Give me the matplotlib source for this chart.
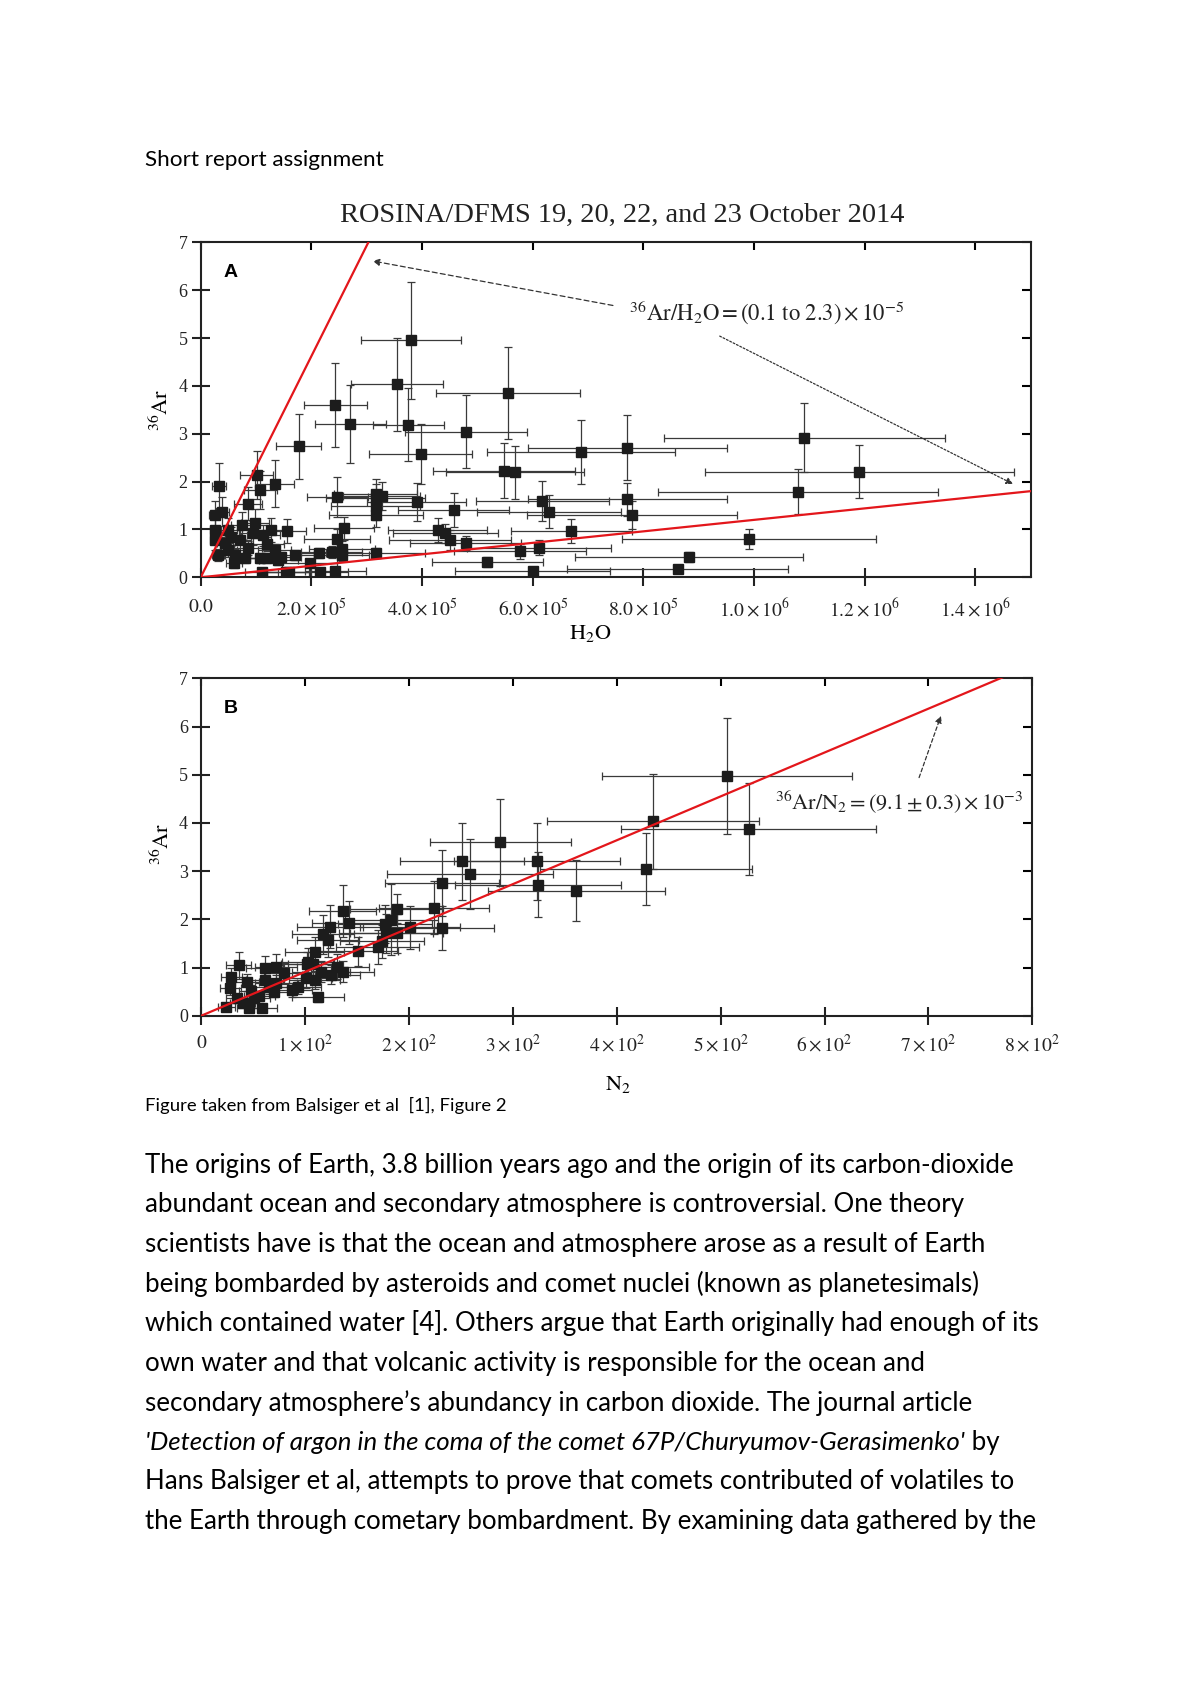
import matplotlib
matplotlib.use("Agg")
import matplotlib.pyplot as plt
import numpy as np

# ---------------- data ----------------
# Panel A : H2O (units of 1e5) vs 36Ar
a_h2o = [3.80, 3.54, 5.56, 2.43, 2.70, 3.75, 4.79, 1.77, 3.98, 6.88, 7.71, 5.48, 5.68,
         7.71, 7.79, 10.91, 11.90, 10.80, 9.91, 8.83, 8.62, 6.17, 6.29, 6.70, 5.77, 6.11,
         5.18, 6.00, 4.28, 4.42, 4.51, 4.79, 4.57, 3.90, 3.16, 3.16, 3.27, 3.16, 3.16,
         2.47, 3.16, 2.59, 2.46, 2.55, 2.55, 2.37, 2.13, 1.97, 2.16, 2.43, 1.55, 1.10,
         1.60, 1.70, 1.46, 1.34, 1.07, 1.19, 0.86, 0.62, 0.32, 0.50, 0.44, 0.71, 0.54,
         0.26, 0.26, 0.50, 0.74, 0.98, 0.95, 1.13, 1.27, 1.56, 0.25, 0.39, 0.86, 1.08,
         1.01, 1.34, 0.33, 0.80, 1.20, 0.60, 1.40]
a_ar = [4.95, 4.03, 3.86, 3.60, 3.20, 3.19, 3.04, 2.74, 2.57, 2.62, 2.71, 2.23, 2.19,
        1.63, 1.30, 2.92, 2.21, 1.79, 0.80, 0.43, 0.17, 1.60, 1.37, 0.97, 0.54, 0.62,
        0.32, 0.14, 0.99, 0.92, 0.78, 0.72, 1.41, 1.57, 1.75, 1.65, 1.70, 1.50, 1.30,
        1.67, 0.51, 1.02, 0.81, 0.60, 0.46, 0.53, 0.51, 0.29, 0.12, 0.13, 0.12, 0.12,
        0.12, 0.47, 0.43, 0.57, 0.40, 0.40, 0.61, 0.47, 0.47, 0.57, 0.71, 0.78, 0.85,
        0.78, 0.99, 0.99, 1.09, 1.13, 0.92, 0.88, 0.99, 0.97, 1.30, 1.37, 1.54, 1.82,
        2.14, 1.96, 1.91, 0.40, 0.70, 0.30, 0.36]
a_h2o_err = [0.90, 0.83, 1.30, 0.57, 0.64, 0.64, 1.10, 0.41, 0.93, 1.70, 1.80, 1.28, 1.25,
             1.80, 1.90, 2.54, 2.79, 2.53, 2.30, 2.06, 2.00, 1.20, 1.30, 1.10, 1.20, 1.30,
             1.00, 1.40, 0.90, 0.95, 1.10, 1.00, 1.00, 0.90, 0.75, 0.90, 0.70, 0.80, 0.85,
             0.55, 0.90, 0.55, 0.60, 0.60, 0.50, 0.55, 0.50, 0.50, 0.50, 0.55, 0.40, 0.30,
             0.40, 0.35, 0.35, 0.30, 0.30, 0.30, 0.25, 0.20, 0.12, 0.15, 0.15, 0.20, 0.18,
             0.10, 0.10, 0.15, 0.20, 0.25, 0.25, 0.30, 0.30, 0.35, 0.10, 0.12, 0.25, 0.30,
             0.30, 0.35, 0.12, 0.20, 0.30, 0.15, 0.35]
a_ar_err = [1.22, 0.98, 0.96, 0.88, 0.82, 0.77, 0.76, 0.68, 0.63, 0.66, 0.68, 0.57, 0.56,
            0.35, 0.30, 0.72, 0.56, 0.47, 0.21, 0.10, 0.05, 0.42, 0.35, 0.25, 0.15, 0.15,
            0.10, 0.05, 0.25, 0.20, 0.20, 0.15, 0.35, 0.40, 0.30, 0.30, 0.30, 0.30, 0.25,
            0.42, 0.10, 0.25, 0.20, 0.15, 0.12, 0.12, 0.10, 0.08, 0.05, 0.05, 0.05, 0.05,
            0.05, 0.10, 0.10, 0.12, 0.10, 0.10, 0.15, 0.12, 0.12, 0.15, 0.18, 0.20, 0.20,
            0.20, 0.25, 0.25, 0.28, 0.30, 0.25, 0.22, 0.25, 0.25, 0.30, 0.30, 0.35, 0.40,
            0.50, 0.50, 0.47, 0.10, 0.15, 0.10, 0.10]
a_ratio_low = 0.12e-5
a_ratio_high = 2.31e-5

# Panel B : N2 vs 36Ar
b_n2 = [506, 435, 527, 428, 288, 251, 259, 323, 324, 361, 232, 224, 232, 201, 188, 183,
        178, 188, 170, 174, 151, 136, 142, 124, 117, 122, 109, 102, 108, 115, 125, 131,
        136, 109, 112, 101, 87, 93, 80, 72, 61, 61, 72, 70, 65, 56, 36, 29, 44, 28, 34,
        40, 46, 58, 24, 51, 48, 103, 177]
b_ar = [4.97, 4.03, 3.87, 3.05, 3.60, 3.20, 2.94, 3.20, 2.72, 2.59, 2.75, 2.24, 1.82,
        1.83, 2.22, 1.99, 1.71, 1.71, 1.43, 1.54, 1.34, 2.17, 1.93, 1.85, 1.69, 1.57,
        1.33, 1.07, 1.07, 0.91, 0.85, 1.02, 0.91, 0.74, 0.38, 0.78, 0.53, 0.60, 0.88,
        1.02, 0.98, 0.74, 0.67, 0.50, 0.60, 0.40, 1.05, 0.80, 0.69, 0.57, 0.36, 0.26,
        0.15, 0.17, 0.19, 0.36, 0.52, 1.12, 1.90]
b_n2_err = [120, 102, 123, 102, 68, 60, 80, 80, 80, 85, 55, 53, 50, 48, 45, 45, 45, 45,
            40, 40, 38, 32, 35, 32, 30, 30, 28, 25, 25, 28, 28, 30, 30, 25, 25, 25, 20,
            22, 20, 20, 18, 18, 20, 18, 18, 15, 12, 10, 12, 10, 10, 12, 12, 15, 8, 15,
            12, 25, 45]
b_ar_err = [1.20, 0.99, 0.95, 0.75, 0.90, 0.79, 0.73, 0.80, 0.67, 0.63, 0.68, 0.55, 0.45,
            0.45, 0.30, 0.74, 0.40, 0.40, 0.35, 0.35, 0.30, 0.54, 0.45, 0.45, 0.40, 0.35,
            0.30, 0.25, 0.25, 0.22, 0.20, 0.25, 0.22, 0.18, 0.10, 0.20, 0.15, 0.15, 0.22,
            0.25, 0.25, 0.20, 0.18, 0.12, 0.15, 0.10, 0.28, 0.20, 0.18, 0.15, 0.10, 0.08,
            0.05, 0.05, 0.05, 0.10, 0.12, 0.28, 0.40]
b_ratio = 9.1e-3

a_xticks = [0, 2e5, 4e5, 6e5, 8e5, 1.0e6, 1.2e6, 1.4e6]
a_xticklabels = [r'$0.0$', r'$2.0\times10^{5}$', r'$4.0\times10^{5}$', r'$6.0\times10^{5}$',
                 r'$8.0\times10^{5}$', r'$1.0\times10^{6}$', r'$1.2\times10^{6}$',
                 r'$1.4\times10^{6}$']
b_xticks = [0, 100, 200, 300, 400, 500, 600, 700, 800]
b_xticklabels = [r'$0$'] + [r'$%d\times10^{2}$' % k for k in range(1, 9)]
y_ticks = [0, 1, 2, 3, 4, 5, 6, 7]

body_lines = [
    "The origins of Earth, 3.8 billion years ago and the origin of its carbon-dioxide",
    "abundant ocean and secondary atmosphere is controversial. One theory",
    "scientists have is that the ocean and atmosphere arose as a result of Earth",
    "being bombarded by asteroids and comet nuclei (known as planetesimals)",
    "which contained water [4]. Others argue that Earth originally had enough of its",
    "own water and that volcanic activity is responsible for the ocean and",
    "secondary atmosphere\u2019s abundancy in carbon dioxide. The journal article",
    None,
    "Hans Balsiger et al, attempts to prove that comets contributed of volatiles to",
    "the Earth through cometary bombardment. By examining data gathered by the",
]
italic_part = "'Detection of argon in the coma of the comet 67P/Churyumov-Gerasimenko'"
after_italic = " by"

# ---------------- figure ----------------
plt.rcParams['mathtext.fontset'] = 'stix'
W, H = 1200, 1696
fig = plt.figure(figsize=(W / 100, H / 100), dpi=100)
fig.patch.set_facecolor('white')

def fx(px):
    return px / W

def fy(py):
    return 1 - py / H

SERIF = 'Liberation Serif'
SANS = 'Lato'
RED = '#e3161b'
INK = '#1c1c1c'

def style_axes(ax, xticks, xlabels, xlim, pad_x):
    ax.set_xlim(*xlim)
    ax.set_ylim(0, 7)
    for s in ax.spines.values():
        s.set_linewidth(1.5)
        s.set_color('#222222')
    ax.set_xticks(xticks)
    ax.set_xticklabels(xlabels)
    ax.set_yticks(y_ticks)
    ax.set_yticklabels([str(v) for v in y_ticks])
    ax.tick_params(axis='x', direction='inout', length=13, width=1.5, pad=pad_x,
                   labelsize=14, colors='#222222')
    ax.tick_params(axis='y', direction='inout', length=13, width=1.5, pad=3,
                   labelsize=13, colors='#222222')
    for lab in ax.get_yticklabels():
        lab.set_fontfamily(SERIF)
    top = ax.secondary_xaxis('top')
    top.set_xticks(xticks)
    top.tick_params(direction='in', length=6, width=1.5, labeltop=False)
    top.spines['top'].set_visible(False)
    right = ax.secondary_yaxis('right')
    right.set_yticks(y_ticks)
    right.tick_params(direction='in', length=6.5, width=1.5, labelright=False)
    right.spines['right'].set_visible(False)

# ---- Panel A
axA = fig.add_axes([fx(200.7), fy(577.3), fx(830), 335 / H])
ax_x = np.array(a_h2o) * 1e5
ax_xe = np.array(a_h2o_err) * 1e5
axA.errorbar(ax_x, a_ar, xerr=ax_xe, yerr=a_ar_err, fmt='none', ecolor='#3a3a3a',
             elinewidth=0.9, capsize=2.8, capthick=0.9, zorder=2)
axA.plot(ax_x, a_ar, 's', ms=6.8, color=INK, zorder=3)
xx = np.array([0, 1.5e6])
axA.plot(xx, a_ratio_high * xx, color=RED, lw=1.6, zorder=4, clip_on=True)
axA.plot(xx, a_ratio_low * xx, color=RED, lw=1.6, zorder=4)
style_axes(axA, a_xticks, a_xticklabels, (0, 1.5e6), 8)
axA.set_xlabel(r'$\mathrm{H_2O}$', fontsize=16)
axA.xaxis.set_label_coords(0.469, -0.137)
axA.set_ylabel(r'$^{36}\mathrm{Ar}$', fontsize=16)
axA.yaxis.set_label_coords(-0.034, 0.5)
axA.text(0.027, 0.91, 'A', transform=axA.transAxes, fontsize=14, fontweight='bold',
         family='Liberation Sans', va='center', ha='left')
axA.text(1.023e6, 5.52, r'$^{36}\mathrm{Ar/H_2O} = (0.1\ \mathrm{to}\ 2.3) \times 10^{-5}$',
         fontsize=16.3, ha='center', va='center', color='#222222')
axA.annotate('', xy=(3.107e5, 6.61), xytext=(7.45e5, 5.68),
             arrowprops=dict(arrowstyle='-|>', lw=0.9, ls=(0, (4, 2.5)), color='#333333',
                             mutation_scale=10, shrinkA=0, shrinkB=0))
axA.annotate('', xy=(1.468e6, 1.95), xytext=(9.38e5, 5.04),
             arrowprops=dict(arrowstyle='-|>', lw=0.9, ls=(0, (1.5, 1.5)), color='#333333',
                             mutation_scale=10, shrinkA=0, shrinkB=0))

# ---- Panel B
axB = fig.add_axes([fx(201.3), fy(1015.7), fx(831), 337.4 / H])
axB.errorbar(b_n2, b_ar, xerr=b_n2_err, yerr=b_ar_err, fmt='none', ecolor='#3a3a3a',
             elinewidth=0.9, capsize=2.8, capthick=0.9, zorder=2)
axB.plot(b_n2, b_ar, 's', ms=6.8, color=INK, zorder=3)
xb = np.array([0, 800])
axB.plot(xb, b_ratio * xb, color=RED, lw=1.6, zorder=4)
style_axes(axB, b_xticks, b_xticklabels, (0, 800), 6)
axB.set_xlabel(r'$\mathrm{N_2}$', fontsize=16)
axB.xaxis.set_label_coords(0.501, -0.172)
axB.set_ylabel(r'$^{36}\mathrm{Ar}$', fontsize=16)
axB.yaxis.set_label_coords(-0.034, 0.51)
axB.text(0.027, 0.91, 'B', transform=axB.transAxes, fontsize=14, fontweight='bold',
         family='Liberation Sans', va='center', ha='left')
axB.text(672, 4.44, r'$^{36}\mathrm{Ar/N_2} = (9.1 \pm 0.3) \times 10^{-3}$',
         fontsize=16, ha='center', va='center', color='#222222')
axB.annotate('', xy=(712, 6.22), xytext=(691, 4.94),
             arrowprops=dict(arrowstyle='-|>', lw=0.9, ls=(0, (3, 2)), color='#333333',
                             mutation_scale=10, shrinkA=0, shrinkB=0))

# ---- Document text
fig.text(fx(622), fy(215), 'ROSINA/DFMS 19, 20, 22, and 23 October 2014', family=SERIF,
         fontsize=20.4, ha='center', va='center', color='#222222')
fig.text(fx(145), fy(160), 'Short report assignment', family=SANS, fontsize=16.2,
         ha='left', va='center', color='black')
fig.text(fx(145), fy(1105), 'Figure taken from Balsiger et al  [1], Figure 2', family=SANS,
         fontsize=13.3, ha='left', va='center', color='black')

BODY = 18.6
line_y0 = 1165
line_dy = 39.6
renderer = fig.canvas.get_renderer()
for i, line in enumerate(body_lines):
    y = fy(line_y0 + i * line_dy)
    if line is None:
        t = fig.text(fx(145), y, italic_part, family=SANS, style='italic', fontsize=BODY,
                     ha='left', va='center', color='black')
        bb = t.get_window_extent(renderer=renderer)
        fig.text(bb.x1 / W, y, after_italic, family=SANS, fontsize=BODY,
                 ha='left', va='center', color='black')
    else:
        fig.text(fx(145), y, line, family=SANS, fontsize=BODY, ha='left', va='center',
                 color='black')

fig.savefig('out.png', dpi=100, facecolor='white')
